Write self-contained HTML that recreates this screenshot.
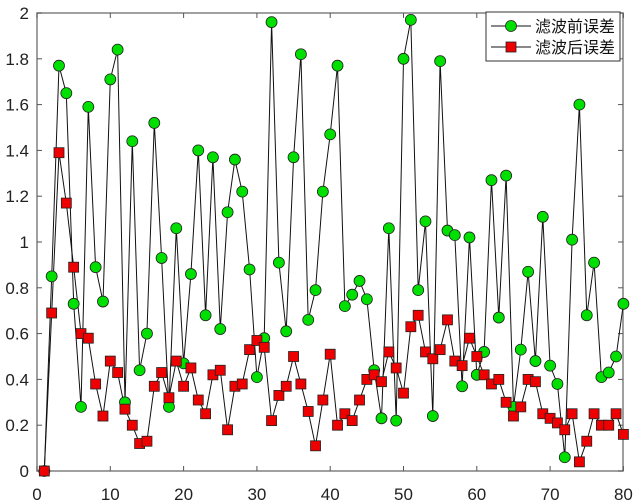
<!DOCTYPE html>
<html><head><meta charset="utf-8"><style>
html,body{margin:0;padding:0;background:#fff;}
svg{display:block;}
text{font-family:"Liberation Sans","Noto Sans CJK SC",sans-serif;}
</style></head><body>
<svg id="s" width="635" height="504" xmlns="http://www.w3.org/2000/svg"></svg>
<script>
const G=[0,0.85,1.77,1.65,0.73,0.28,1.59,0.89,0.74,1.71,1.84,0.30,1.44,0.44,0.60,1.52,0.93,0.28,1.06,0.47,0.86,1.40,0.68,1.37,0.62,1.13,1.36,1.22,0.88,0.41,0.58,1.96,0.91,0.61,1.37,1.82,0.66,0.79,1.22,1.47,1.77,0.72,0.77,0.83,0.75,0.44,0.23,1.06,0.22,1.80,1.97,0.79,1.09,0.24,1.79,1.05,1.03,0.37,1.02,0.42,0.52,1.27,0.67,1.29,0.28,0.53,0.87,0.48,1.11,0.46,0.38,0.06,1.01,1.60,0.68,0.91,0.41,0.43,0.50,0.73];
const R=[0,0.69,1.39,1.17,0.89,0.60,0.58,0.38,0.24,0.48,0.43,0.27,0.20,0.12,0.13,0.37,0.43,0.32,0.48,0.37,0.45,0.31,0.25,0.42,0.44,0.18,0.37,0.38,0.53,0.57,0.54,0.22,0.33,0.37,0.50,0.38,0.26,0.11,0.31,0.51,0.20,0.25,0.22,0.31,0.40,0.42,0.39,0.52,0.45,0.34,0.63,0.68,0.52,0.49,0.53,0.66,0.48,0.46,0.58,0.50,0.42,0.38,0.40,0.30,0.24,0.28,0.40,0.39,0.25,0.23,0.21,0.18,0.25,0.04,0.13,0.25,0.20,0.20,0.25,0.16];
const X=i=>37+i*7.33, Y=v=>471-v*229;
let h='';
h+='<rect x="37" y="13" width="586" height="458" fill="#fff" stroke="#808080" stroke-width="1.5"/>';
for(let i=0;i<=8;i++){const x=X(i*10);h+=`<line x1="${x}" y1="471" x2="${x}" y2="466" stroke="#555"/><line x1="${x}" y1="13" x2="${x}" y2="18" stroke="#555"/><text x="${x}" y="500" font-size="17" text-anchor="middle" fill="#222">${i*10}</text>`;}
for(let j=0;j<=10;j++){const v=j*0.2,y=Y(v);const l=j==0?'0':j==10?'2':(v.toFixed(1).replace(/\.0$/,''));h+=`<line x1="37" y1="${y}" x2="42" y2="${y}" stroke="#555"/><line x1="623" y1="${y}" x2="618" y2="${y}" stroke="#555"/><text x="29" y="${y+6}" font-size="17" text-anchor="end" fill="#222">${l}</text>`;}
const pl=a=>a.map((v,i)=>X(i+1).toFixed(1)+','+Y(v).toFixed(1)).join(' ');
h+=`<polyline points="${pl(G)}" fill="none" stroke="#111" stroke-width="1"/>`;
h+=`<polyline points="${pl(R)}" fill="none" stroke="#111" stroke-width="1"/>`;
G.forEach((v,i)=>{h+=`<circle cx="${X(i+1)}" cy="${Y(v)}" r="5.5" fill="#00e000" stroke="#222" stroke-width="0.8"/>`;});
R.forEach((v,i)=>{h+=`<rect x="${X(i+1)-5}" y="${Y(v)-5}" width="10" height="10" fill="#ee0000" stroke="#222" stroke-width="0.8"/>`;});
h+='<rect x="486" y="12" width="134" height="49" fill="#fff" stroke="#333" stroke-width="1"/>';
h+='<line x1="491" y1="26" x2="531" y2="26" stroke="#111"/><circle cx="511" cy="26" r="5.5" fill="#00e000" stroke="#222" stroke-width="0.8"/>';
h+='<line x1="491" y1="47" x2="531" y2="47" stroke="#111"/><rect x="506" y="42" width="10" height="10" fill="#ee0000" stroke="#222" stroke-width="0.8"/>';
h+='<text x="535" y="32" font-size="16" fill="#111">滤波前误差</text><text x="535" y="53" font-size="16" fill="#111">滤波后误差</text>';
document.getElementById('s').innerHTML=h;
</script>
</body></html>
